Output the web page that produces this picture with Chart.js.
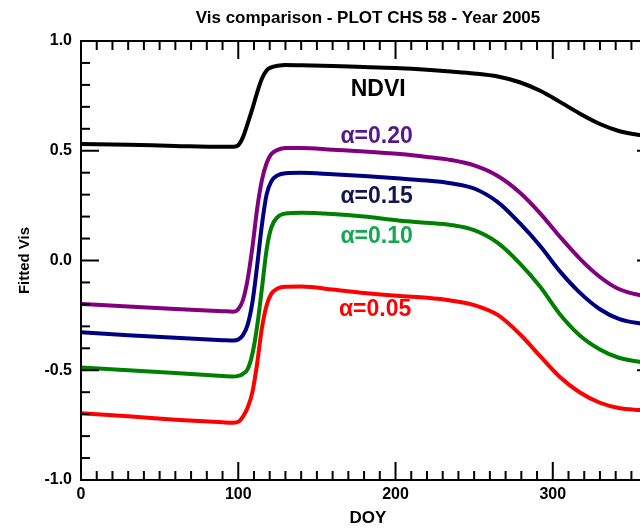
<!DOCTYPE html>
<html>
<head>
<meta charset="utf-8">
<script src="https://cdn.jsdelivr.net/npm/chart.js@4.4.1/dist/chart.umd.min.js"></script>
<style>
  html, body { margin: 0; padding: 0; background: #fff; overflow: hidden; }
  #wrap { width: 640px; height: 531px; overflow: hidden; position: relative; }
  #chart { position: absolute; left: 0; top: 0; }
</style>
</head>
<body>
<div id="wrap"><canvas id="chart" width="680" height="531"></canvas></div>
<script>
  "use strict";

  // ============================================
  // DATA
  // ============================================
  var doy = [0, 30, 60, 90, 97, 100, 103, 106, 109, 112, 115, 118, 121, 125, 130,
             140, 160, 180, 203, 220, 235, 250, 265, 279, 292, 304, 317, 330, 342, 355, 365];

  var ndvi = [0.531, 0.527, 0.522, 0.518, 0.518, 0.525, 0.562, 0.625, 0.692, 0.765, 0.828, 0.866, 0.880, 0.887, 0.891,
              0.890, 0.886, 0.881, 0.876, 0.869, 0.861, 0.852, 0.838, 0.812, 0.773, 0.725, 0.670, 0.622, 0.590, 0.572, 0.565];

  var alpha20 = [-0.198, -0.210, -0.221, -0.231, -0.233, -0.222, -0.180, -0.085, 0.060, 0.235, 0.365, 0.443, 0.485, 0.504, 0.513,
                 0.513, 0.505, 0.497, 0.485, 0.472, 0.458, 0.433, 0.385, 0.310, 0.215, 0.113, 0.010, -0.075, -0.130, -0.157, -0.165];

  var alpha15 = [-0.327, -0.340, -0.352, -0.363, -0.365, -0.360, -0.340, -0.292, -0.190, -0.025, 0.160, 0.300, 0.360, 0.388, 0.398,
                 0.400, 0.393, 0.385, 0.374, 0.364, 0.352, 0.328, 0.266, 0.170, 0.066, -0.045, -0.145, -0.222, -0.266, -0.286, -0.292];

  var alpha10 = [-0.487, -0.500, -0.513, -0.526, -0.529, -0.526, -0.516, -0.495, -0.425, -0.300, -0.130, 0.048, 0.150, 0.198, 0.214,
                 0.218, 0.212, 0.200, 0.181, 0.172, 0.162, 0.138, 0.080, -0.013, -0.120, -0.240, -0.340, -0.405, -0.443, -0.461, -0.466];

  var alpha05 = [-0.696, -0.710, -0.725, -0.737, -0.739, -0.735, -0.711, -0.670, -0.600, -0.470, -0.310, -0.205, -0.152, -0.128, -0.120,
                 -0.119, -0.132, -0.148, -0.162, -0.170, -0.182, -0.203, -0.248, -0.335, -0.436, -0.527, -0.600, -0.648, -0.672, -0.681, -0.685];

  var xTicks = [0, 100, 200, 300];
  var yTicks = [-1.0, -0.5, 0.0, 0.5, 1.0];

  var seriesNames = ["NDVI", "\u03b1=0.20", "\u03b1=0.15", "\u03b1=0.10", "\u03b1=0.05"];
  var seriesValues = [ndvi, alpha20, alpha15, alpha10, alpha05];
  var lineColors = ["#000000", "#800080", "#000080", "#008000", "#ff0000"];
  var labelColors = ["#000000", "#55188a", "#141450", "#12a84e", "#ff0000"];
  // where each curve's name sits (data space)
  var labelDoy = [189, 188, 188, 188, 187];
  var labelVal = [0.777, 0.563, 0.289, 0.107, -0.226];

  var FONT = "'Liberation Sans', Arial, Helvetica, sans-serif";

  // ============================================
  // FRAME, TICKS, TITLES, CURVE LABELS
  // ============================================
  var framePlugin = {
    id: "frame",
    afterDraw: function (chart) {
      var ctx = chart.ctx;
      var a = chart.chartArea;
      var xs = chart.scales.x;
      var ys = chart.scales.y;

      ctx.save();
      ctx.strokeStyle = "#000";
      ctx.lineWidth = 2;
      ctx.strokeRect(a.left, a.top, a.right - a.left, a.bottom - a.top);

      function seg(x1, y1, x2, y2) {
        ctx.beginPath();
        ctx.moveTo(x1, y1);
        ctx.lineTo(x2, y2);
        ctx.stroke();
      }

      // x ticks every 10 days, major every 100
      for (var d = 0; d <= 365; d += 10) {
        var px = xs.getPixelForValue(d);
        var len = d % 100 === 0 ? 18 : 9;
        seg(px, a.bottom, px, a.bottom - len);
        seg(px, a.top, px, a.top + len);
      }
      // y ticks every 0.1, major every 0.5
      for (var i = -10; i <= 10; i++) {
        var py = ys.getPixelForValue(i / 10);
        var l = i % 5 === 0 ? 18 : 9;
        seg(a.left, py, a.left + l, py);
        seg(a.right, py, a.right - l, py);
      }

      ctx.fillStyle = "#000";
      ctx.textAlign = "center";
      ctx.textBaseline = "middle";
      var cx = (a.left + a.right) / 2;

      ctx.font = "bold 17px " + FONT;
      ctx.fillText("Vis comparison - PLOT CHS 58 - Year 2005", cx, 18);

      ctx.font = "bold 17px " + FONT;
      ctx.fillText("DOY", cx, 518);

      ctx.save();
      ctx.translate(25, (a.top + a.bottom) / 2);
      ctx.rotate(-Math.PI / 2);
      ctx.font = "bold 15px " + FONT;
      ctx.fillText("Fitted Vis", 0, 0);
      ctx.restore();

      ctx.font = "bold 23px " + FONT;
      for (var k = 0; k < seriesNames.length; k++) {
        ctx.fillStyle = labelColors[k];
        ctx.fillText(seriesNames[k], xs.getPixelForValue(labelDoy[k]), ys.getPixelForValue(labelVal[k]));
      }
      ctx.restore();
    },
  };

  // ============================================
  // CHART
  // ============================================
  var datasets = seriesValues.map(function (vals, k) {
    return {
      label: seriesNames[k],
      data: doy.map(function (d, j) {
        return { x: d, y: vals[j] };
      }),
      borderColor: lineColors[k],
      borderWidth: 4,
      pointRadius: 0,
      cubicInterpolationMode: "monotone",
      fill: false,
    };
  });

  new Chart(document.getElementById("chart"), {
    type: "line",
    data: { datasets: datasets },
    options: {
      responsive: false,
      animation: false,
      layout: { padding: { top: 41, right: 25, left: 0, bottom: 0 } },
      plugins: {
        legend: { display: false },
        tooltip: { enabled: false },
        title: { display: false },
      },
      scales: {
        x: {
          type: "linear",
          min: 0,
          max: 365,
          grid: { display: false, drawTicks: false },
          border: { display: false },
          afterBuildTicks: function (s) {
            s.ticks = xTicks.map(function (v) { return { value: v }; });
          },
          afterFit: function (s) { s.height = 51; },
          ticks: {
            padding: 5,
            color: "#000",
            font: { family: FONT, size: 16, weight: "bold" },
            maxRotation: 0,
            callback: function (v) { return String(v); },
          },
        },
        y: {
          min: -1,
          max: 1,
          grid: { display: false, drawTicks: false },
          border: { display: false },
          afterBuildTicks: function (s) {
            s.ticks = yTicks.map(function (v) { return { value: v }; });
          },
          afterFit: function (s) { s.width = 81; },
          ticks: {
            padding: 9,
            color: "#000",
            font: { family: FONT, size: 16, weight: "bold" },
            callback: function (v) { return Number(v).toFixed(1); },
          },
        },
      },
    },
    plugins: [framePlugin],
  });
</script>
</body>
</html>
